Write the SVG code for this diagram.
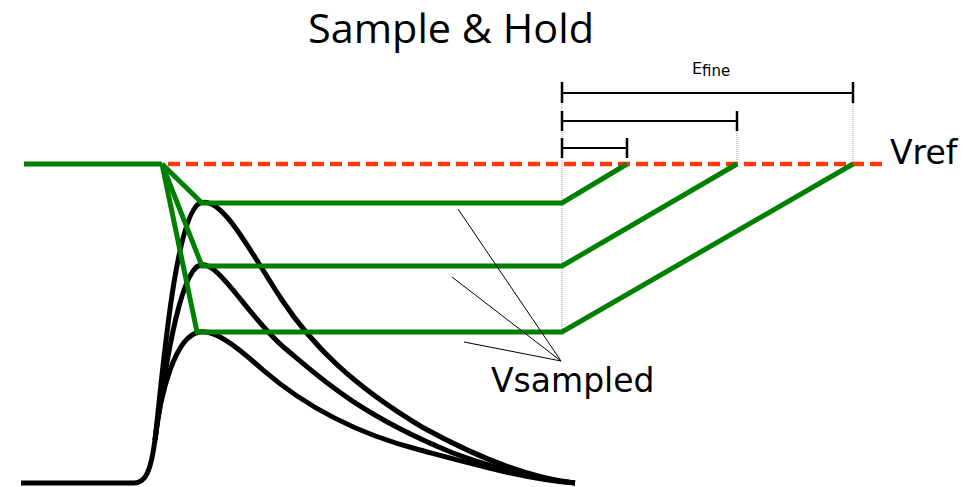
<svg xmlns="http://www.w3.org/2000/svg" width="964" height="487" viewBox="0 0 964 487">
<style>
.pulse{fill:none;stroke:#000;stroke-width:5;stroke-linejoin:round;stroke-linecap:butt}
.grn{fill:none;stroke:#008000;stroke-width:5;stroke-linejoin:miter}
.ref{fill:none;stroke:#ff3a0a;stroke-width:4.5;stroke-dasharray:12 6}
.dim{fill:none;stroke:#000;stroke-width:2}
.tick{fill:none;stroke:#000;stroke-width:2.5}
.guide{fill:none;stroke:#999;stroke-width:1;stroke-dasharray:1 1}
.lead{fill:none;stroke:#000;stroke-width:1}
.lbl{font-family:"DejaVu Sans",sans-serif;fill:#000}
</style>
<rect width="964" height="487" fill="#fff"/>
<text id="title" x="308" y="43" font-family="'Open Sans','Liberation Sans',sans-serif" font-size="41" textLength="286" lengthAdjust="spacingAndGlyphs" fill="#000">Sample &amp; Hold</text>

<g id="pulses">
<path class="pulse" d="M21,483 L134,483 C146,483 151,470 155,440 C162,380 175,215 200,203 C222,194 252,255 282,300 C312,345 352,385 422,427 C482,460 530,478 575,483"/>
<path class="pulse" d="M155,440 C162,390 178,272 200,265 C218,259 250,320 287,350 C320,378 360,415 453,453 C500,470 540,480 575,483"/>
<path class="pulse" d="M155,440 C160,395 175,335 200,332 C215,330 235,345 263,370 C300,402 350,432 420,450 C480,466 530,480 575,483"/>
</g>

<g id="guides">
<line class="guide" x1="562" y1="82" x2="562" y2="332"/>
<line class="guide" x1="737" y1="121" x2="737" y2="164"/>
<line class="guide" x1="853" y1="95" x2="853" y2="164"/>
</g>

<g id="vref-line">
<line class="ref" x1="168" y1="164" x2="885" y2="164"/>
</g>

<g id="held">
<polyline class="grn" points="24,164 162,164"/>
<polyline class="grn" points="162,164 202,203 562,203 627,164"/>
<polyline class="grn" points="162,164 202,266 562,266 737,164"/>
<polyline class="grn" points="162,164 197,332 562,332 853,164"/>
</g>

<g id="dimensions">
<line class="dim" x1="562" y1="93" x2="853" y2="93"/>
<line class="tick" x1="562" y1="82" x2="562" y2="103"/>
<line class="tick" x1="853" y1="82" x2="853" y2="103"/>
<line class="dim" x1="562" y1="121" x2="737" y2="121"/>
<line class="tick" x1="562" y1="111" x2="562" y2="131"/>
<line class="tick" x1="737" y1="111" x2="737" y2="131"/>
<line class="dim" x1="562" y1="148" x2="627" y2="148"/>
<line class="tick" x1="562" y1="138" x2="562" y2="158"/>
<line class="tick" x1="627" y1="138" x2="627" y2="158"/>
</g>

<g id="efine">
<text class="lbl" x="692" y="74" font-size="16">E<tspan font-size="15" dy="2">fine</tspan></text>
</g>

<g id="vref">
<text class="lbl" x="890" y="164" font-size="33">Vref</text>
</g>

<g id="connectors">
<line class="lead" x1="458" y1="209" x2="561" y2="361"/>
<line class="lead" x1="452" y1="277" x2="561" y2="361"/>
<line class="lead" x1="464" y1="342" x2="561" y2="361"/>
</g>

<g id="vsampled">
<text class="lbl" x="491" y="392" font-size="33">Vsampled</text>
</g>
</svg>
